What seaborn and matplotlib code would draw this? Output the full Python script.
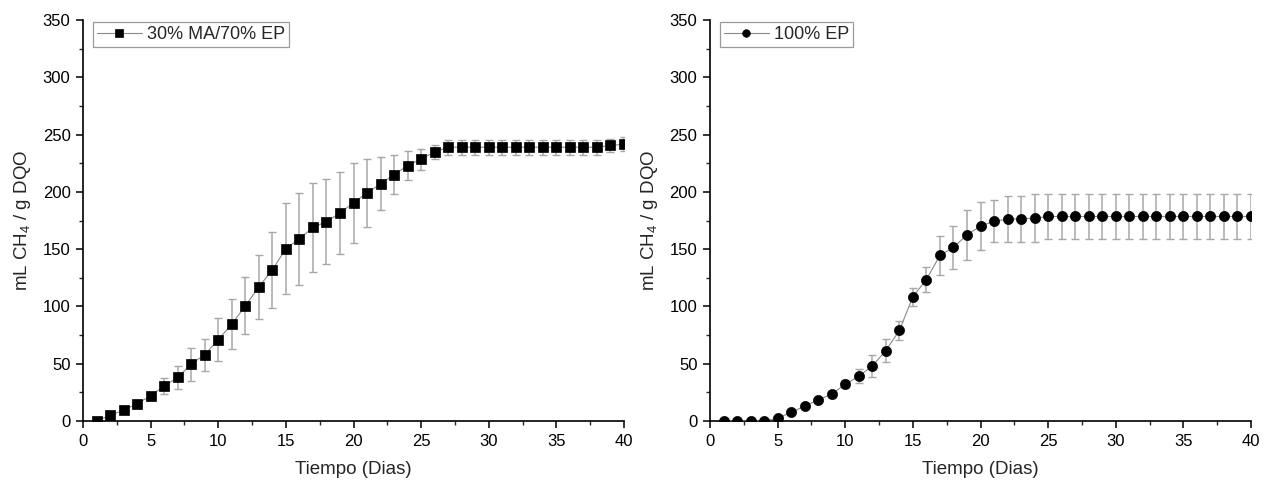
import numpy as np
import pandas as pd
import matplotlib
matplotlib.use("Agg")
import matplotlib.pyplot as plt
from matplotlib.ticker import MultipleLocator
import seaborn as sns

# ---- data ----
days = list(range(1, 41))

ma70_mean = [0, 5, 9.5, 15, 22, 30.5, 38, 49.5, 58, 71,
             84.5, 100.5, 117, 132, 150.5, 159, 169, 174, 181.5, 190.5,
             199, 207, 215, 223, 228.5, 235, 239, 239, 239, 239,
             239, 239, 239, 239, 239, 239, 239, 239, 240.5, 241.5]
ma70_err = [0, 0, 0, 0, 2, 7, 10, 14.5, 14, 19,
            22, 25, 28, 33, 40, 40, 39, 37, 36, 35,
            30, 23, 17, 13, 9, 6, 6.5, 6.5, 6.5, 6.5,
            6.5, 6.5, 6.5, 6.5, 6.5, 6.5, 6.5, 6.5, 6, 6]

ep_mean = [0, 0, 0, 0, 2.5, 7.5, 13, 18.5, 23.5, 32,
           39, 48, 61.5, 79, 108.5, 123.5, 144.5, 151.5, 162.5, 170,
           174.5, 176, 176.5, 177, 178.5, 178.5, 178.5, 178.5, 178.5, 178.5,
           178.5, 178.5, 178.5, 178.5, 178.5, 178.5, 178.5, 178.5, 178.5, 178.5]
ep_err = [0, 0, 0, 0, 0, 0, 0, 1.5, 3, 3.5,
          6, 9.5, 10, 8, 8, 11, 17, 19, 22, 21,
          18, 20, 20, 21, 19.6, 19.6, 19.6, 19.6, 19.6, 19.6,
          19.6, 19.6, 19.6, 19.6, 19.6, 19.6, 19.6, 19.6, 19.6, 19.6]

labels = ["30% MA/70% EP", "100% EP"]
markers = ["s", "o"]
x_label = "Tiempo (Dias)"
y_label = "mL CH$_4$ / g DQO"

# ---- style ----
sns.set_style("ticks")
plt.rcParams["font.family"] = ["Liberation Sans", "DejaVu Sans"]
plt.rcParams["mathtext.fontset"] = "custom"
plt.rcParams["mathtext.rm"] = "Liberation Sans"
plt.rcParams["mathtext.it"] = "Liberation Sans"

fig = plt.figure(figsize=(12.68, 4.83), dpi=100)
ax_l = fig.add_axes([83 / 1268, 62 / 483, 541 / 1268, 401 / 483])
ax_r = fig.add_axes([710 / 1268, 62 / 483, 541 / 1268, 401 / 483])

series = [(ax_l, ma70_mean, ma70_err, labels[0], markers[0], 7.0),
          (ax_r, ep_mean, ep_err, labels[1], markers[1], 7.3)]

for ax, mean, err, lab, mk, ms in series:
    df = pd.DataFrame({"day": days, "val": mean, "err": err})
    ax.errorbar(df["day"], df["val"], yerr=df["err"], fmt="none",
                ecolor="#a8a8a8", elinewidth=1.1, capsize=3.0, capthick=1.0,
                zorder=2)
    sns.lineplot(data=df, x="day", y="val", ax=ax, color="#8a8a8a",
                 linewidth=0.8, marker=mk, markersize=ms,
                 markerfacecolor="black", markeredgecolor="black",
                 markeredgewidth=0.5, label=lab, zorder=3)
    ax.set_xlim(0, 40)
    ax.set_ylim(0, 350)
    ax.xaxis.set_major_locator(MultipleLocator(5))
    ax.xaxis.set_minor_locator(MultipleLocator(2.5))
    ax.yaxis.set_major_locator(MultipleLocator(50))
    ax.yaxis.set_minor_locator(MultipleLocator(25))
    ax.tick_params(which="major", direction="out", length=5, width=1.1,
                   labelsize=12, colors="black", pad=4)
    ax.tick_params(which="minor", direction="out", length=3, width=1.0)
    ax.set_xlabel(x_label, fontsize=13.5, labelpad=9)
    ax.set_ylabel(y_label, fontsize=13.5, labelpad=7)
    for side in ["left", "bottom"]:
        ax.spines[side].set_linewidth(1.2)
        ax.spines[side].set_color("black")
    sns.despine(ax=ax)
    leg = ax.legend(loc="upper left", bbox_to_anchor=(0.012, 1.003),
                    fontsize=13, frameon=True, fancybox=False,
                    framealpha=1, edgecolor="#9a9a9a", handlelength=2.5,
                    handletextpad=0.3, borderpad=0.2, borderaxespad=0.2,
                    markerscale=0.75)
    leg.get_frame().set_linewidth(0.9)

fig.savefig("out.png", dpi=100)
